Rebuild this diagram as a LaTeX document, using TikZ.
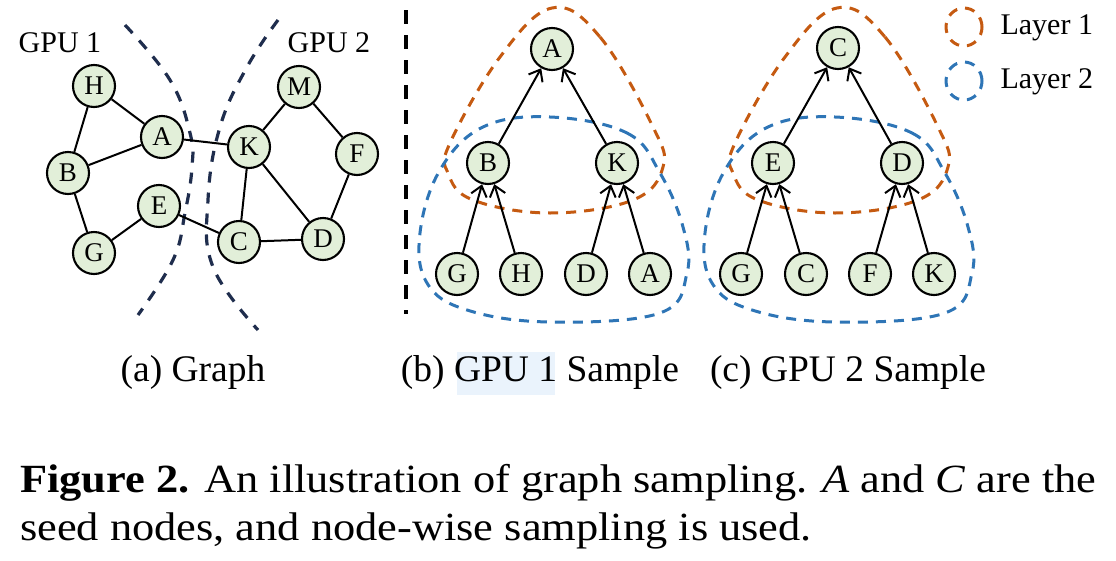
\documentclass[tikz,border=0pt]{standalone}
\usepackage{fontspec}
\setmainfont{Liberation Serif}
\usetikzlibrary{arrows.meta}
\definecolor{nodefill}{HTML}{E2EFD9}
\definecolor{navy}{HTML}{1F2D4D}
\definecolor{lorange}{HTML}{C55A11}
\definecolor{lblue}{HTML}{2E75B6}
\definecolor{hilite}{HTML}{EAF3FC}
\begin{document}
\begin{tikzpicture}[x=1pt,y=-1pt,
  vtx/.style={circle,draw=black,line width=2.1pt,fill=nodefill,minimum size=42pt,inner sep=0pt,font=\fontsize{27}{27}\selectfont},
  edge/.style={line width=2pt},
  tarrow/.style={line width=2pt,-{Straight Barb[length=10pt,width=16pt,line width=2pt]}},
  cut/.style={draw=navy,line width=3.2pt,dash pattern=on 11pt off 10pt},
  l1/.style={draw=lorange,line width=3pt,dash pattern=on 10pt off 8pt},
  l2/.style={draw=lblue,line width=3pt,dash pattern=on 10pt off 8pt},
  lbl/.style={font=\fontsize{30}{30}\selectfont},
  subcap/.style={font=\fontsize{37.5}{37.5}\selectfont},
  fig/.style={font=\fontsize{40}{40}\selectfont,anchor=base west,inner sep=0pt}]
\useasboundingbox (0,0) rectangle (1116,560);
% highlight
\fill[hilite] (457,352) rectangle (555,395);
% (a) graph
\node[lbl] (g1) at (60,43) {GPU 1};
\node[lbl] (g2) at (329,43) {GPU 2};
\draw[cut] plot[smooth,tension=0.7] coordinates {(125,25) (170,80) (190,133) (192,167) (185,213) (173,260) (138,315)};
\draw[cut] plot[smooth,tension=0.7] coordinates {(278,20) (247,67) (220,127) (208,200) (213,267) (258,330)};
\node[vtx] (H) at (94,86) {H};
\node[vtx] (A) at (162,137) {A};
\node[vtx] (B) at (68,173) {B};
\node[vtx] (E) at (159,206) {E};
\node[vtx] (G) at (94,253) {G};
\node[vtx] (M) at (299,87) {M};
\node[vtx] (K) at (249,147) {K};
\node[vtx] (F) at (357,154) {F};
\node[vtx] (C) at (239,242) {C};
\node[vtx] (D) at (323,239) {D};
\draw[edge] (H)--(A) (H)--(B) (B)--(A) (B)--(G) (G)--(E) (E)--(C) (A)--(K) (K)--(M) (M)--(F) (K)--(C) (K)--(D) (C)--(D) (F)--(D);
% separator
\draw[line width=3.4pt,dash pattern=on 14pt off 11pt] (406,10) coordinate (s1) -- (406,314) coordinate (s2);
% (b) tree
\draw[l1] plot[smooth cycle,tension=0.65] coordinates {(552,8) (600,37) (653,127) (663,167) (633,200) (550,213) (473,200) (448,173) (450,143) (500,57)};
\draw[l2] plot[smooth cycle,tension=0.65] coordinates {(550,117) (627,133) (660,173) (683,227) (687,273) (660,313) (550,322) (467,310) (427,283) (420,233) (440,170) (483,127)};
\node[vtx] (bA) at (552,49) {A};
\node[vtx] (bB) at (488,163) {B};
\node[vtx] (bK) at (617,163) {K};
\node[vtx] (bG) at (457,274) {G};
\node[vtx] (bH) at (521,274) {H};
\node[vtx] (bD) at (586,274) {D};
\node[vtx] (bA2) at (650,274) {A};
\draw[tarrow] (bB)--(bA);
\draw[tarrow] (bK)--(bA);
\draw[tarrow] (bG)--(bB);
\draw[tarrow] (bH)--(bB);
\draw[tarrow] (bD)--(bK);
\draw[tarrow] (bA2)--(bK);
% (c) tree
\begin{scope}[xshift=285pt]
\draw[l1] plot[smooth cycle,tension=0.65] coordinates {(552,8) (600,37) (653,127) (663,167) (633,200) (550,213) (473,200) (448,173) (450,143) (500,57)};
\draw[l2] plot[smooth cycle,tension=0.65] coordinates {(550,117) (627,133) (660,173) (683,227) (687,273) (660,313) (550,322) (467,310) (427,283) (420,233) (440,170) (483,127)};
\end{scope}
\node[vtx] (cC) at (838,48) {C};
\node[vtx] (cE) at (773,163) {E};
\node[vtx] (cD) at (902,163) {D};
\node[vtx] (cG) at (741,274) {G};
\node[vtx] (cC2) at (806,274) {C};
\node[vtx] (cF) at (870,274) {F};
\node[vtx] (cK) at (934,274) {K};
\draw[tarrow] (cE)--(cC);
\draw[tarrow] (cD)--(cC);
\draw[tarrow] (cG)--(cE);
\draw[tarrow] (cC2)--(cE);
\draw[tarrow] (cF)--(cD);
\draw[tarrow] (cK)--(cD);
% legend
\draw[l1] (964,27) ellipse [x radius=18pt,y radius=19pt];
\node[lbl,anchor=west] (t1) at (997,28) {Layer 1};
\draw[l2] (964,81) ellipse [x radius=18pt,y radius=19pt];
\node[lbl,anchor=west] (t2) at (997,82) {Layer 2};
% sub captions
\node[subcap] (ca) at (193,372) {(a) Graph};
\node[subcap] (cb) at (540,372) {(b) GPU 1 Sample};
\node[subcap] (cc) at (848,372) {(c) GPU 2 Sample};
% figure caption
\node[fig] (f1) at (20,492) {\scalebox{1.11}[1]{\textbf{Figure 2.} An illustration of graph sampling. \textit{A} and \textit{C} are the}};
\node[fig] (f2) at (20,540) {\scalebox{1.11}[1]{seed nodes, and node-wise sampling is used.}};
\end{tikzpicture}
\end{document}
